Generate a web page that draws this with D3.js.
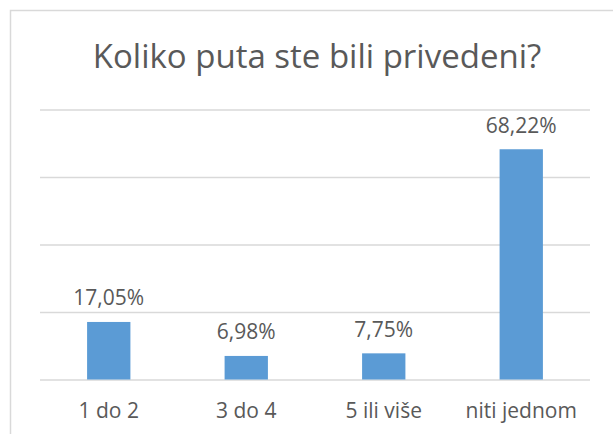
<!DOCTYPE html>
<html>
<head>
<meta charset="utf-8">
<script src="https://cdn.jsdelivr.net/npm/d3@7"></script>
<style>
  html, body { margin: 0; padding: 0; background: #fff; }
  svg { display: block; }
</style>
</head>
<body>
<script>
// Survey answers: how many times respondents were detained
const categories = ["1 do 2", "3 do 4", "5 ili više", "niti jednom"];
const shares = [17.05, 6.98, 7.75, 68.22];
const valueLabels = ["17,05%", "6,98%", "7,75%", "68,22%"];
const gridTicks = [0, 20, 40, 60, 80];
const title = "Koliko puta ste bili privedeni?";

const W = 613, H = 434;
const svg = d3.select("body").append("svg").attr("width", W).attr("height", H);
const font = "'Open Sans', 'Noto Sans', sans-serif";
const textColor = "#595959";

// chart frame
svg.append("rect")
  .attr("x", 10.5).attr("y", 10.5)
  .attr("width", 640).attr("height", 460)
  .attr("fill", "#fff")
  .attr("stroke", "#D9D9D9").attr("stroke-width", 1.5);

const plot = { left: 40, right: 590, top: 109.5, bottom: 379.5 };

const x = d3.scaleBand()
  .domain(categories)
  .range([plot.left, plot.right])
  .paddingInner(0.685)
  .paddingOuter(0.3425);

const y = d3.scaleLinear()
  .domain([0, 80])
  .range([plot.bottom, plot.top]);

// horizontal gridlines
const grid = svg.append("g")
  .attr("transform", `translate(${plot.left},0)`)
  .call(d3.axisLeft(y).tickValues(gridTicks).tickSize(-(plot.right - plot.left)).tickFormat(""));
grid.select(".domain").remove();
grid.selectAll(".tick line").attr("stroke", "#D9D9D9").attr("stroke-width", 1.5);

// bars
svg.append("g").selectAll("rect")
  .data(categories)
  .join("rect")
  .attr("x", d => x(d))
  .attr("width", x.bandwidth())
  .attr("y", (d, i) => y(shares[i]))
  .attr("height", (d, i) => y(0) - y(shares[i]))
  .attr("fill", "#5B9BD5");

// value labels above bars
svg.append("g").selectAll("text")
  .data(categories)
  .join("text")
  .attr("x", d => x(d) + x.bandwidth() / 2)
  .attr("y", (d, i) => y(shares[i]) - 16.5)
  .attr("text-anchor", "middle")
  .attr("font-family", font)
  .attr("font-size", 21)
  .attr("fill", textColor)
  .text((d, i) => valueLabels[i]);

// category axis labels
const xAxis = svg.append("g")
  .attr("transform", `translate(0,${plot.bottom})`)
  .call(d3.axisBottom(x).tickSize(0).tickPadding(0));
xAxis.select(".domain").remove();
xAxis.selectAll(".tick text")
  .attr("y", 38.5)
  .attr("dy", 0)
  .attr("font-family", font)
  .attr("font-size", 21)
  .attr("fill", textColor);

// title
svg.append("text")
  .attr("x", 317)
  .attr("y", 68)
  .attr("text-anchor", "middle")
  .attr("font-family", font)
  .attr("font-size", 33)
  .attr("fill", textColor)
  .text(title);
</script>
</body>
</html>
